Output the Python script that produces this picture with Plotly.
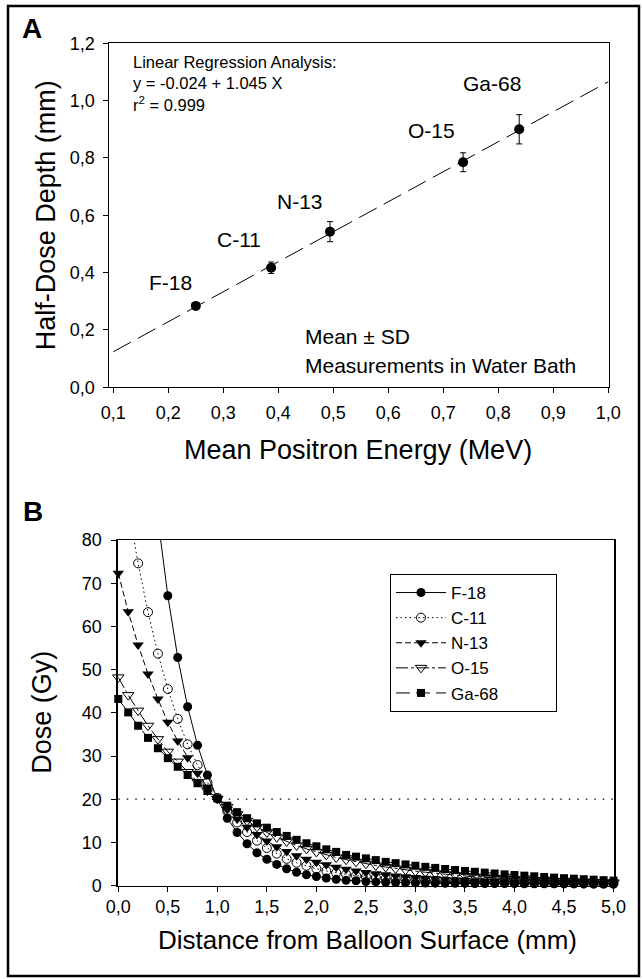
import plotly.graph_objects as go

# ---------------- Panel A data ----------------
nuclides = ["F-18", "C-11", "N-13", "O-15", "Ga-68"]
mean_energy = [0.250, 0.387, 0.494, 0.736, 0.838]          # MeV
half_dose_depth = [0.284, 0.417, 0.543, 0.785, 0.900]      # mm
depth_sd = [0.0, 0.020, 0.035, 0.033, 0.051]
fit_x = [0.1, 1.0]
fit_y = [0.124, 1.066]
a_xticks = [0.1, 0.2, 0.3, 0.4, 0.5, 0.6, 0.7, 0.8, 0.9, 1.0]
a_xticktext = ["0,1", "0,2", "0,3", "0,4", "0,5", "0,6", "0,7", "0,8", "0,9", "1,0"]
a_yticks = [0.0, 0.2, 0.4, 0.6, 0.8, 1.0, 1.2]
a_yticktext = ["0,0", "0,2", "0,4", "0,6", "0,8", "1,0", "1,2"]

# ---------------- Panel B data ----------------
distance = [0.0, 0.1, 0.2, 0.3, 0.4, 0.5, 0.6, 0.7, 0.8, 0.9,
            1.0, 1.1, 1.2, 1.3, 1.4, 1.5, 1.6, 1.7, 1.8, 1.9,
            2.0, 2.1, 2.2, 2.3, 2.4, 2.5, 2.6, 2.7, 2.8, 2.9,
            3.0, 3.1, 3.2, 3.3, 3.4, 3.5, 3.6, 3.7, 3.8, 3.9,
            4.0, 4.1, 4.2, 4.3, 4.4, 4.5, 4.6, 4.7, 4.8, 4.9,
            5.0]
dose_f18 = [222, 175, 138, 108, 85, 67.1, 52.8, 41.4, 32.5, 25.6,
            20.1, 15.6, 12.3, 9.7, 7.6, 6.1, 4.9, 3.9, 3.1, 2.5,
            2.1, 1.75, 1.45, 1.25, 1.1, 0.95, 0.85, 0.78, 0.72, 0.67,
            0.63, 0.6, 0.57, 0.55, 0.53, 0.51, 0.49, 0.48, 0.47, 0.46,
            0.45, 0.44, 0.43, 0.42, 0.41, 0.4, 0.4, 0.39, 0.38, 0.38,
            0.37]
dose_c11 = [103, 87.6, 74.6, 63.3, 53.7, 45.5, 38.6, 32.7, 27.9, 23.9,
            20.3, 17.2, 14.6, 12.4, 10.4, 8.7, 7.4, 6.2, 5.3, 4.6,
            3.9, 3.4, 2.95, 2.6, 2.3, 2.05, 1.85, 1.65, 1.5, 1.37,
            1.25, 1.15, 1.06, 0.98, 0.92, 0.86, 0.81, 0.77, 0.73, 0.69,
            0.66, 0.63, 0.6, 0.58, 0.56, 0.54, 0.52, 0.5, 0.49, 0.48,
            0.47]
dose_n13 = [72.3, 63.4, 55.7, 49.0, 43.2, 37.8, 33.5, 29.6, 26.0, 22.8,
            20.1, 17.6, 15.4, 13.5, 11.8, 10.3, 9.0, 7.9, 6.9, 6.1,
            5.4, 4.8, 4.25, 3.8, 3.4, 3.05, 2.75, 2.5, 2.25, 2.05,
            1.87, 1.7, 1.56, 1.43, 1.32, 1.22, 1.13, 1.05, 0.98, 0.92,
            0.86, 0.81, 0.77, 0.73, 0.69, 0.66, 0.63, 0.6, 0.58, 0.56,
            0.54]
dose_o15 = [48.2, 44.1, 40.5, 37.0, 33.9, 31.0, 28.7, 26.3, 24.0, 22.0,
            20.1, 18.2, 16.5, 15.0, 13.6, 12.3, 11.2, 10.2, 9.3, 8.5,
            7.8, 7.1, 6.5, 6.0, 5.5, 5.05, 4.65, 4.3, 3.95, 3.65,
            3.35, 3.1, 2.85, 2.62, 2.42, 2.23, 2.06, 1.9, 1.76, 1.62,
            1.5, 1.39, 1.29, 1.2, 1.11, 1.03, 0.96, 0.9, 0.84, 0.78,
            0.73]
dose_ga68 = [43.2, 40.1, 37.0, 34.2, 31.8, 29.5, 27.5, 25.6, 23.7, 21.9,
             20.2, 18.5, 17.0, 15.6, 14.4, 13.4, 12.4, 11.5, 10.6, 9.8,
             9.1, 8.4, 7.8, 7.1, 6.7, 6.3, 5.9, 5.5, 5.2, 4.9,
             4.6, 4.35, 4.1, 3.85, 3.6, 3.4, 3.2, 3.0, 2.8, 2.6,
             2.45, 2.3, 2.15, 2.0, 1.85, 1.72, 1.6, 1.48, 1.37, 1.26,
             1.15]
ref_x = [0.0, 5.0]
ref_dose = [20, 20]
b_xticks = [0.0, 0.5, 1.0, 1.5, 2.0, 2.5, 3.0, 3.5, 4.0, 4.5, 5.0]
b_xticktext = ["0,0", "0,5", "1,0", "1,5", "2,0", "2,5", "3,0", "3,5", "4,0", "4,5", "5,0"]
b_yticks = [0, 10, 20, 30, 40, 50, 60, 70, 80]
b_yticktext = ["0", "10", "20", "30", "40", "50", "60", "70", "80"]

# ---------------- layout geometry (pixels) ----------------
W, H = 643, 979
FONT = "Liberation Sans, Arial, Helvetica, sans-serif"


def px(x):
    return x / W


def py(y):
    return 1 - y / H


fig = go.Figure()

# Panel A
fig.add_trace(go.Scatter(x=fit_x, y=fit_y, mode="lines", xaxis="x", yaxis="y",
                         line=dict(color="black", width=1, dash="20px,8px"),
                         showlegend=False, hoverinfo="skip"))
fig.add_trace(go.Scatter(x=mean_energy, y=half_dose_depth, mode="markers",
                         xaxis="x", yaxis="y",
                         marker=dict(color="black", size=10, symbol="circle"),
                         error_y=dict(type="data", array=depth_sd, color="black",
                                      thickness=1, width=3),
                         showlegend=False, cliponaxis=False))

# Panel B
fig.add_trace(go.Scatter(x=ref_x, y=ref_dose, mode="lines", xaxis="x2", yaxis="y2",
                         line=dict(color="black", width=1.2, dash="1.5px,7px"),
                         showlegend=False, hoverinfo="skip"))

PAD = "\u00a0" * 11   # widen the legend box like the original
series = [
    ("F-18", dose_f18, dict(dash="solid"), dict(symbol="circle", size=9, color="black")),
    ("C-11", dose_c11, dict(dash="1.5px,3px"),
     dict(symbol="circle-open", size=9, color="black", line=dict(width=1))),
    ("N-13", dose_n13, dict(dash="6px,3px"), dict(symbol="triangle-down", size=10, color="black")),
    ("O-15", dose_o15, dict(dash="12px,3px,3px,3px"),
     dict(symbol="triangle-down-open", size=10, color="black", line=dict(width=1))),
    ("Ga-68", dose_ga68, dict(dash="14px,6px"), dict(symbol="square", size=8, color="black")),
]
for name, vals, ln, mk in series:
    fig.add_trace(go.Scatter(x=distance, y=vals, mode="lines+markers", name=name + PAD,
                             xaxis="x2", yaxis="y2",
                             line=dict(color="black", width=1, **ln),
                             marker=mk, cliponaxis=False))

axis_common = dict(showgrid=False, zeroline=False, ticks="outside", ticklen=5,
                   tickcolor="black", tickfont=dict(family=FONT, size=18, color="black"),
                   showline=True, linecolor="black", mirror=True)

fig.update_layout(
    width=W, height=H,
    margin=dict(l=0, r=0, t=0, b=0, autoexpand=False),
    paper_bgcolor="white", plot_bgcolor="white",
    font=dict(family=FONT, color="black"),
    xaxis=dict(domain=[px(109.3), px(609.3)], range=[0.1 - 4 / 550, 1.0 + 1 / 550],
               anchor="y", tickvals=a_xticks, ticktext=a_xticktext, linewidth=1.2,
               ticklabelstandoff=4, **axis_common),
    yaxis=dict(domain=[py(387.3), py(43.3)], range=[0, 1.2], anchor="x",
               tickvals=a_yticks, ticktext=a_yticktext, linewidth=1,
               ticklabelstandoff=5, **axis_common),
    xaxis2=dict(domain=[px(118.3), px(613.5)], range=[0, 5], anchor="y2",
                tickvals=b_xticks, ticktext=b_xticktext, linewidth=1,
                ticklabelstandoff=0, **axis_common),
    yaxis2=dict(domain=[py(885.6), py(540)], range=[0, 80], anchor="x2",
                tickvals=b_yticks, ticktext=b_yticktext, linewidth=2,
                ticklabelstandoff=6, **axis_common),
    showlegend=True,
    legend=dict(x=px(390), y=py(574), xanchor="left", yanchor="top",
                bgcolor="white", bordercolor="black", borderwidth=1,
                font=dict(family=FONT, size=17, color="black"),
                itemwidth=50, tracegroupgap=0),
)

ann = []
# point labels (offsets in pixels from each point)
label_shift = {"F-18": (-25, 23), "C-11": (-32, 28), "N-13": (-30, 30),
               "O-15": (-32, 32), "Ga-68": (-27, 46)}
for name, xe, yd in zip(nuclides, mean_energy, half_dose_depth):
    dx, dy = label_shift[name]
    ann.append(dict(x=xe, y=yd, xref="x", yref="y", text=name, showarrow=False,
                    xshift=dx, yshift=dy, font=dict(family=FONT, size=21)))


def paper_text(text, x, y, size, xanchor="left", angle=0, bold=False, yanchor="middle"):
    t = "<b>%s</b>" % text if bold else text
    return dict(x=px(x), y=py(y), xref="paper", yref="paper", text=t, showarrow=False,
                xanchor=xanchor, yanchor=yanchor, textangle=angle, align="left",
                font=dict(family=FONT, size=size, color="black"))


ann += [
    paper_text("Linear Regression Analysis:<br>y = -0.024 + 1.045 X<br>r<sup>2</sup> = 0.999",
               131, 51, 16.5, yanchor="top"),
    paper_text("Mean ± SD", 303, 336.7, 21),
    paper_text("Measurements in Water Bath", 303, 365, 21),
    paper_text("Mean Positron Energy (MeV)", 358, 450, 27, xanchor="center"),
    paper_text("Half-Dose Depth (mm)", 46, 215.3, 27, xanchor="center", angle=-90),
    paper_text("Distance from Balloon Surface (mm)", 367, 940, 26, xanchor="center"),
    paper_text("Dose (Gy)", 42, 712.8, 27, xanchor="center", angle=-90),
    paper_text("A", 32, 28, 28, xanchor="center", bold=True),
    paper_text("B", 32.5, 511, 28, xanchor="center", bold=True),
]
fig.update_layout(annotations=ann)

# outer frame of the figure
fig.add_shape(type="rect", xref="paper", yref="paper",
              x0=px(8), x1=px(639), y0=py(976), y1=py(6),
              line=dict(color="black", width=2.5), fillcolor="rgba(0,0,0,0)", layer="above")

fig.write_html("out.html", config={"displayModeBar": False},
               post_script="document.body.style.margin='0px';"
                           "document.body.style.overflow='hidden';")
